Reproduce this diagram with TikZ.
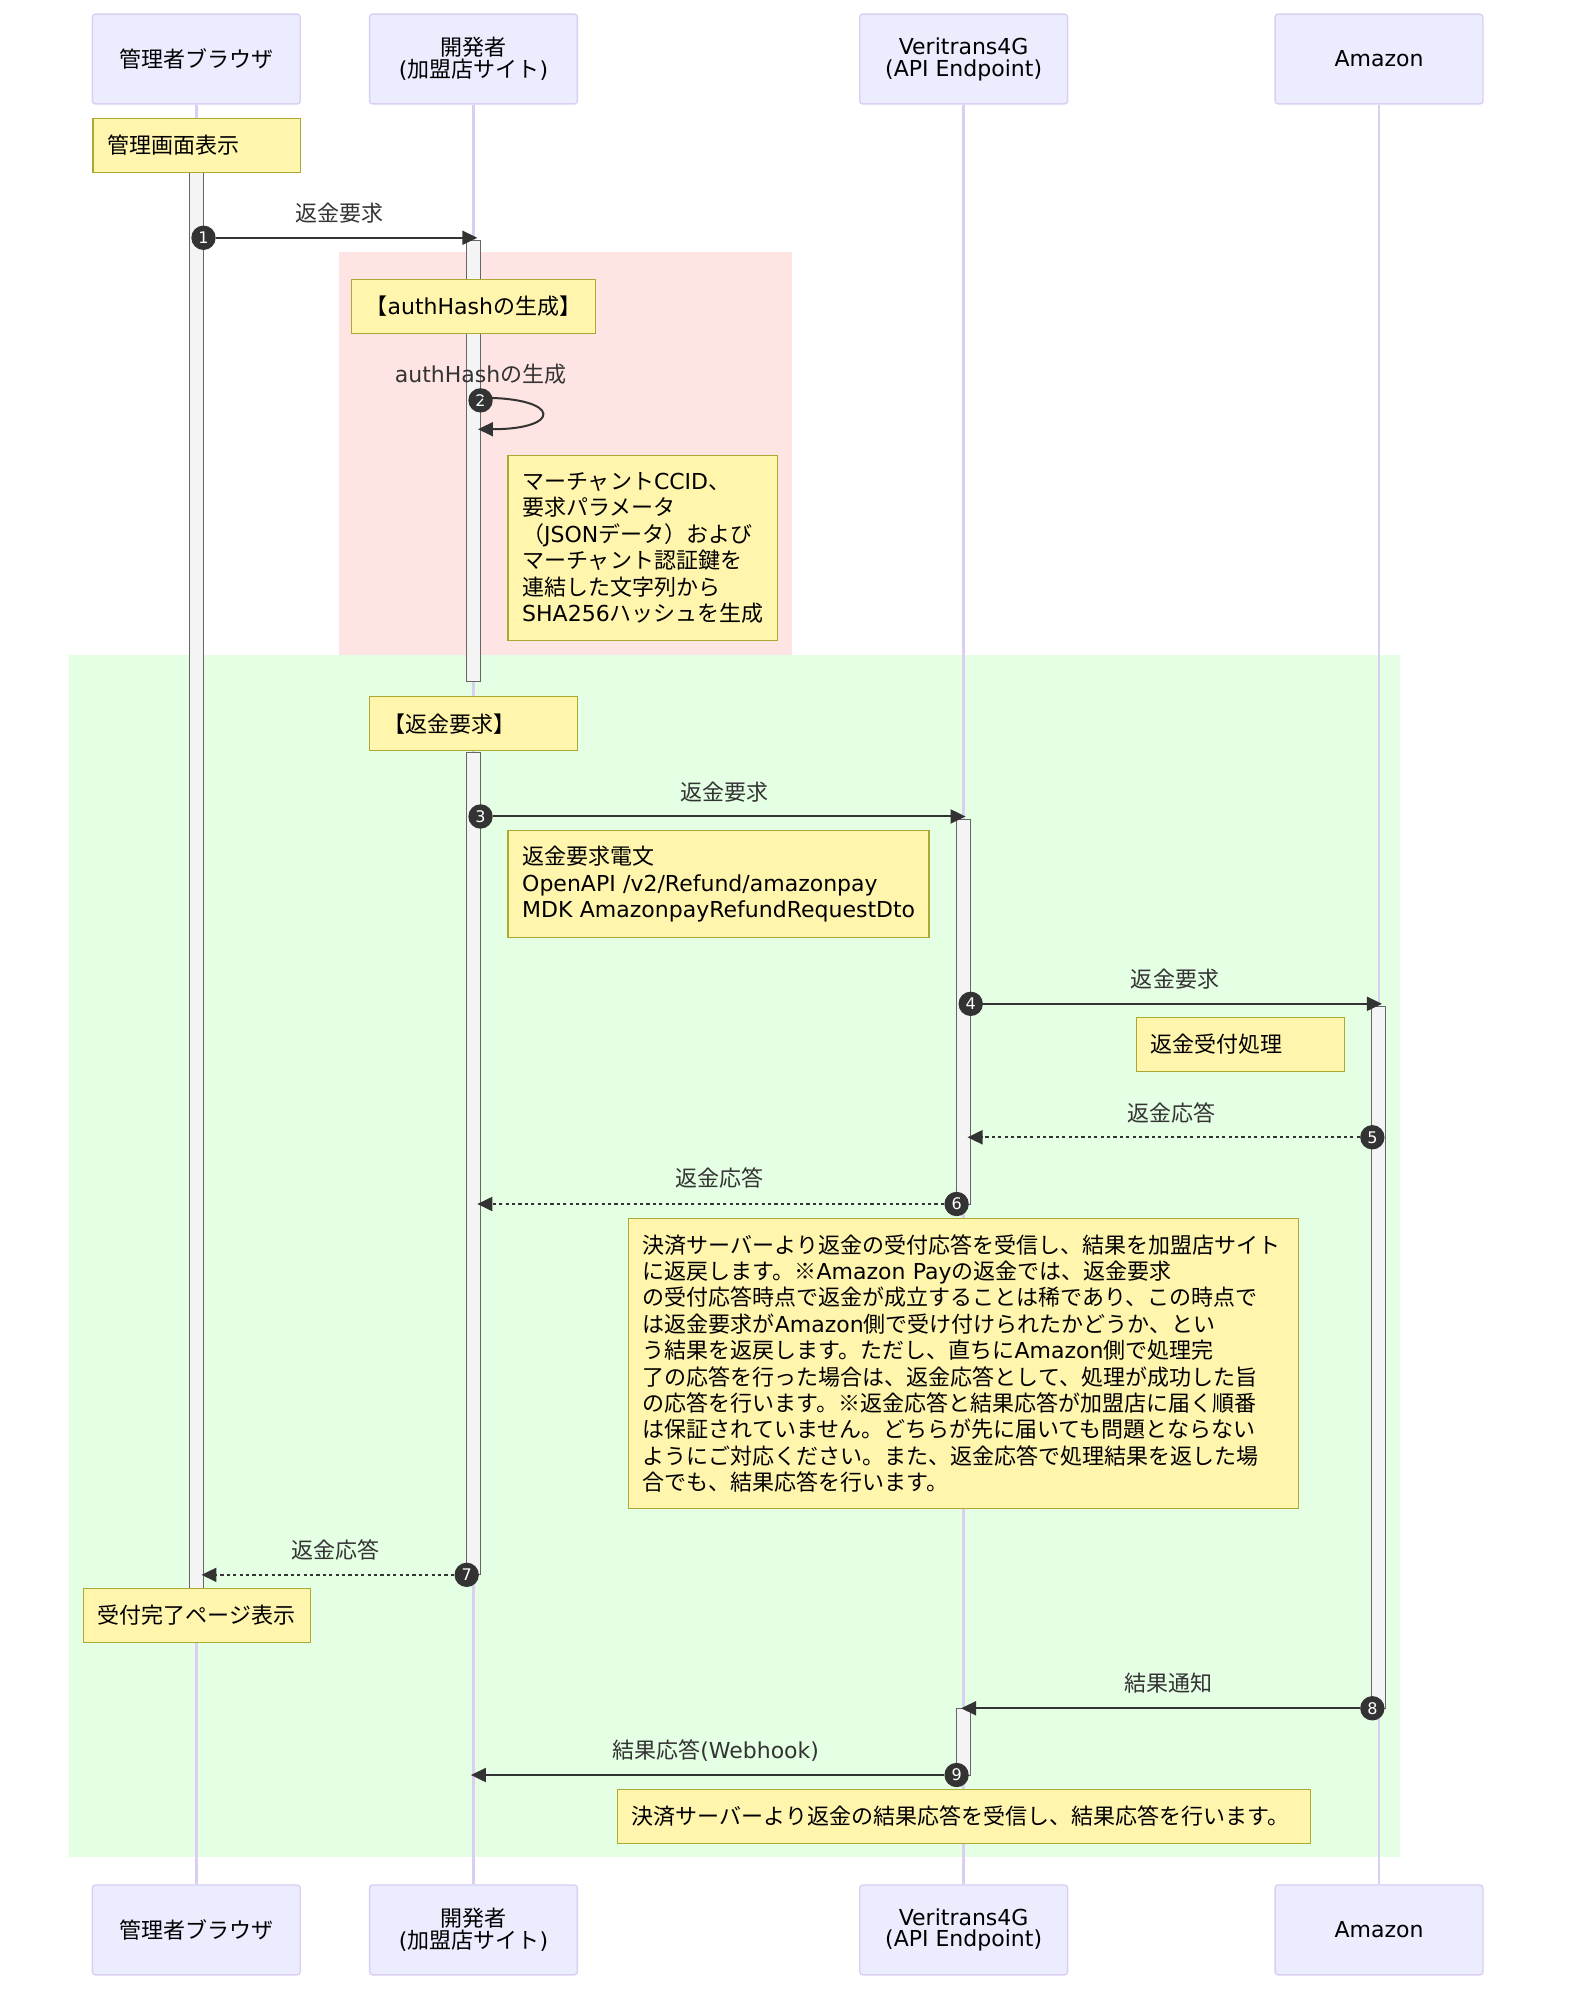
\documentclass[tikz,border=0pt]{standalone}
\usepackage{fontspec}
\setmainfont{Noto Sans CJK JP}
\newfontfamily\latfont{DejaVu Sans}
\newcommand{\lat}[1]{{\latfont #1}}
\newcommand{\ux}{0.6415pt}
\usetikzlibrary{arrows.meta}
\pgfdeclarelayer{bg}
\pgfsetlayers{bg,main}
\definecolor{actorfill}{HTML}{ECECFF}
\definecolor{actorline}{HTML}{DACEF3}
\definecolor{notefill}{HTML}{FFF5AD}
\definecolor{noteline}{HTML}{AAAA33}
\definecolor{signal}{HTML}{333333}
\definecolor{barfill}{HTML}{F4F4F4}
\definecolor{barline}{HTML}{666666}
\definecolor{hashpink}{HTML}{FFE4E4}
\definecolor{reqgreen}{HTML}{E4FFE4}
\tikzset{
    actorbox/.style={draw=actorline, fill=actorfill, line width=.7pt, rounded corners=1.5pt, align=center, inner sep=0pt,
        minimum width=162*\ux, minimum height=70*\ux, font=\fontsize{11}{13.2}\selectfont},
    notebox/.style 2 args={draw=noteline, fill=notefill, line width=.6pt, anchor=north west, align=left, inner xsep=11*\ux, inner ysep=0pt,
        minimum width=#1*\ux, minimum height=#2*\ux, text width=(#1-22)*\ux, font=\fontsize{11}{13.2}\selectfont},
    msglabel/.style={text=signal, inner sep=0pt, font=\fontsize{11}{13.2}\selectfont},
    seqnum/.style={circle, fill=signal, text=white, inner sep=0pt, minimum size=19*\ux, font=\latfont\fontsize{8}{9}\selectfont},
    msg/.style={draw=signal, line width=1pt, -{Triangle[length=7.5pt,width=7pt]}},
    msgdash/.style={msg, dash pattern=on 1.6pt off 1.6pt},
    lifeline/.style={draw=actorline, line width=1.2pt},
    actbar/.style={draw=barline, fill=barfill, line width=.5pt, anchor=north, inner sep=0pt, minimum width=11*\ux},
    zone/.style={anchor=north west, inner sep=0pt}
}
\begin{document}
\begin{tikzpicture}[x=0.6415pt, y=-0.6415pt]
        \useasboundingbox (0,0) rectangle (1222,1568);
        % actors
        \node (a1) [actorbox] at (153,46) {管理者ブラウザ};
        \node (a2) [actorbox] at (369,46) {開発者\\[-2.3pt]\lat{(}加盟店サイト\lat{)}};
        \node (a3) [actorbox] at (751,46) {\lat{Veritrans4G}\\[-2.3pt]\lat{(API Endpoint)}};
        \node (a4) [actorbox] at (1074.7,46) {\lat{Amazon}};
        \node (b1) [actorbox] at (153,1504) {管理者ブラウザ};
        \node (b2) [actorbox] at (369,1504) {開発者\\[-2.3pt]\lat{(}加盟店サイト\lat{)}};
        \node (b3) [actorbox] at (751,1504) {\lat{Veritrans4G}\\[-2.3pt]\lat{(API Endpoint)}};
        \node (b4) [actorbox] at (1074.7,1504) {\lat{Amazon}};
        \begin{pgfonlayer}{bg}
                \node (zhash) [zone, fill=hashpink, minimum width=353.5*\ux, minimum height=314*\ux] at (263.5,196) {};
                \node (zreq) [zone, fill=reqgreen, minimum width=1037.5*\ux, minimum height=937*\ux] at (53.5,510) {};
                \draw [lifeline] (a1) -- (b1);
                \draw [lifeline] (a2) -- (b2);
                \draw [lifeline] (a3) -- (b3);
                \draw [lifeline] (a4) -- (b4);
                \node (bar1) [actbar, minimum height=1104*\ux] at (153,134) {};
                \node (bar2) [actbar, minimum height=344*\ux] at (369,187) {};
                \node (bar3) [actbar, minimum height=641*\ux] at (369,586) {};
                \node (bar4) [actbar, minimum height=300*\ux] at (751,638) {};
                \node (bar5) [actbar, minimum height=547*\ux] at (1074.5,784) {};
                \node (bar6) [actbar, minimum height=52*\ux] at (751,1331) {};
        \end{pgfonlayer}
        % notes
        \node (nshow) [notebox={162}{42}] at (72,91.7) {管理画面表示};
        \node (nhash) [notebox={190}{42}] at (273.5,217.5) {【\lat{authHash}の生成】};
        \node (nhashtxt) [notebox={210}{144}] at (395.5,354.5) {マーチャント\lat{CCID}、\\要求パラメータ\\（\lat{JSON}データ）および\\マーチャント認証鍵を\\連結した文字列から\\\lat{SHA256}ハッシュを生成};
        \node (nreq) [notebox={162}{42}] at (287.5,542.5) {【返金要求】};
        \node (nreqtxt) [notebox={328}{83}] at (395.5,647) {返金要求電文\\\mbox{\lat{OpenAPI /v2/Refund/amazonpay}}\\\mbox{\lat{MDK AmazonpayRefundRequestDto}}};
        \node (naccept) [notebox={162}{42}] at (885.5,792.5) {返金受付処理};
        \node (nresp) [notebox={522}{226}] at (489.5,949) {決済サーバーより返金の受付応答を受信し、結果を加盟店サイト\\に返戻します。※\lat{Amazon Pay}の返金では、返金要求\\の受付応答時点で返金が成立することは稀であり、この時点で\\は返金要求が\lat{Amazon}側で受け付けられたかどうか、とい\\う結果を返戻します。ただし、直ちに\lat{Amazon}側で処理完\\了の応答を行った場合は、返金応答として、処理が成功した旨\\の応答を行います。※返金応答と結果応答が加盟店に届く順番\\は保証されていません。どちらが先に届いても問題とならない\\ようにご対応ください。また、返金応答で処理結果を返した場\\合でも、結果応答を行います。};
        \node (ndone) [notebox={177}{42}] at (64.5,1237.5) {受付完了ページ表示};
        \node (nresult) [notebox={540}{42}] at (481,1394) {決済サーバーより返金の結果応答を受信し、結果応答を行います。};
        % message ends
        \coordinate (t1) at (372,185.3);
        \coordinate (s2) at (376,310);
        \coordinate (t2) at (372.5,334.5);
        \coordinate (t3) at (752.5,636.3);
        \coordinate (t4) at (1077,782.3);
        \coordinate (t5) at (754,886.3);
        \coordinate (t6) at (372,938.3);
        \coordinate (t7) at (157,1227.3);
        \coordinate (t8) at (749,1331.3);
        \coordinate (t9) at (367,1383.3);
        % messages
        \node (m1) [seqnum] at (158.6,185.3) {1};
        \node (m2) [seqnum] at (374.5,312) {2};
        \node (m3) [seqnum] at (374.5,636.3) {3};
        \node (m4) [seqnum] at (756.5,782.3) {4};
        \node (m5) [seqnum] at (1069.5,886.3) {5};
        \node (m6) [seqnum] at (745.5,938.3) {6};
        \node (m7) [seqnum] at (363.7,1227.3) {7};
        \node (m8) [seqnum] at (1069.5,1331.3) {8};
        \node (m9) [seqnum] at (745.5,1383.3) {9};
        \draw [msg] (m1) -- (t1);
        \draw [msg] (s2) .. controls (438,310) and (438,334.5) .. (t2);
        \draw [msg] (m3) -- (t3);
        \draw [msg] (m4) -- (t4);
        \draw [msgdash] (m5) -- (t5);
        \draw [msgdash] (m6) -- (t6);
        \draw [msgdash] (m7) -- (t7);
        \draw [msg] (m8) -- (t8);
        \draw [msg] (m9) -- (t9);
        \node (l1) [msglabel] at (264.7,166) {返金要求};
        \node (l2) [msglabel] at (374.5,291.3) {\lat{authHash}の生成};
        \node (l3) [msglabel] at (564.3,617) {返金要求};
        \node (l4) [msglabel] at (915.7,763) {返金要求};
        \node (l5) [msglabel] at (912.7,867) {返金応答};
        \node (l6) [msglabel] at (560.7,918) {返金応答};
        \node (l7) [msglabel] at (261.7,1208) {返金応答};
        \node (l8) [msglabel] at (910.7,1312) {結果通知};
        \node (l9) [msglabel] at (557.7,1364) {結果応答\lat{(Webhook)}};
\end{tikzpicture}
\end{document}
